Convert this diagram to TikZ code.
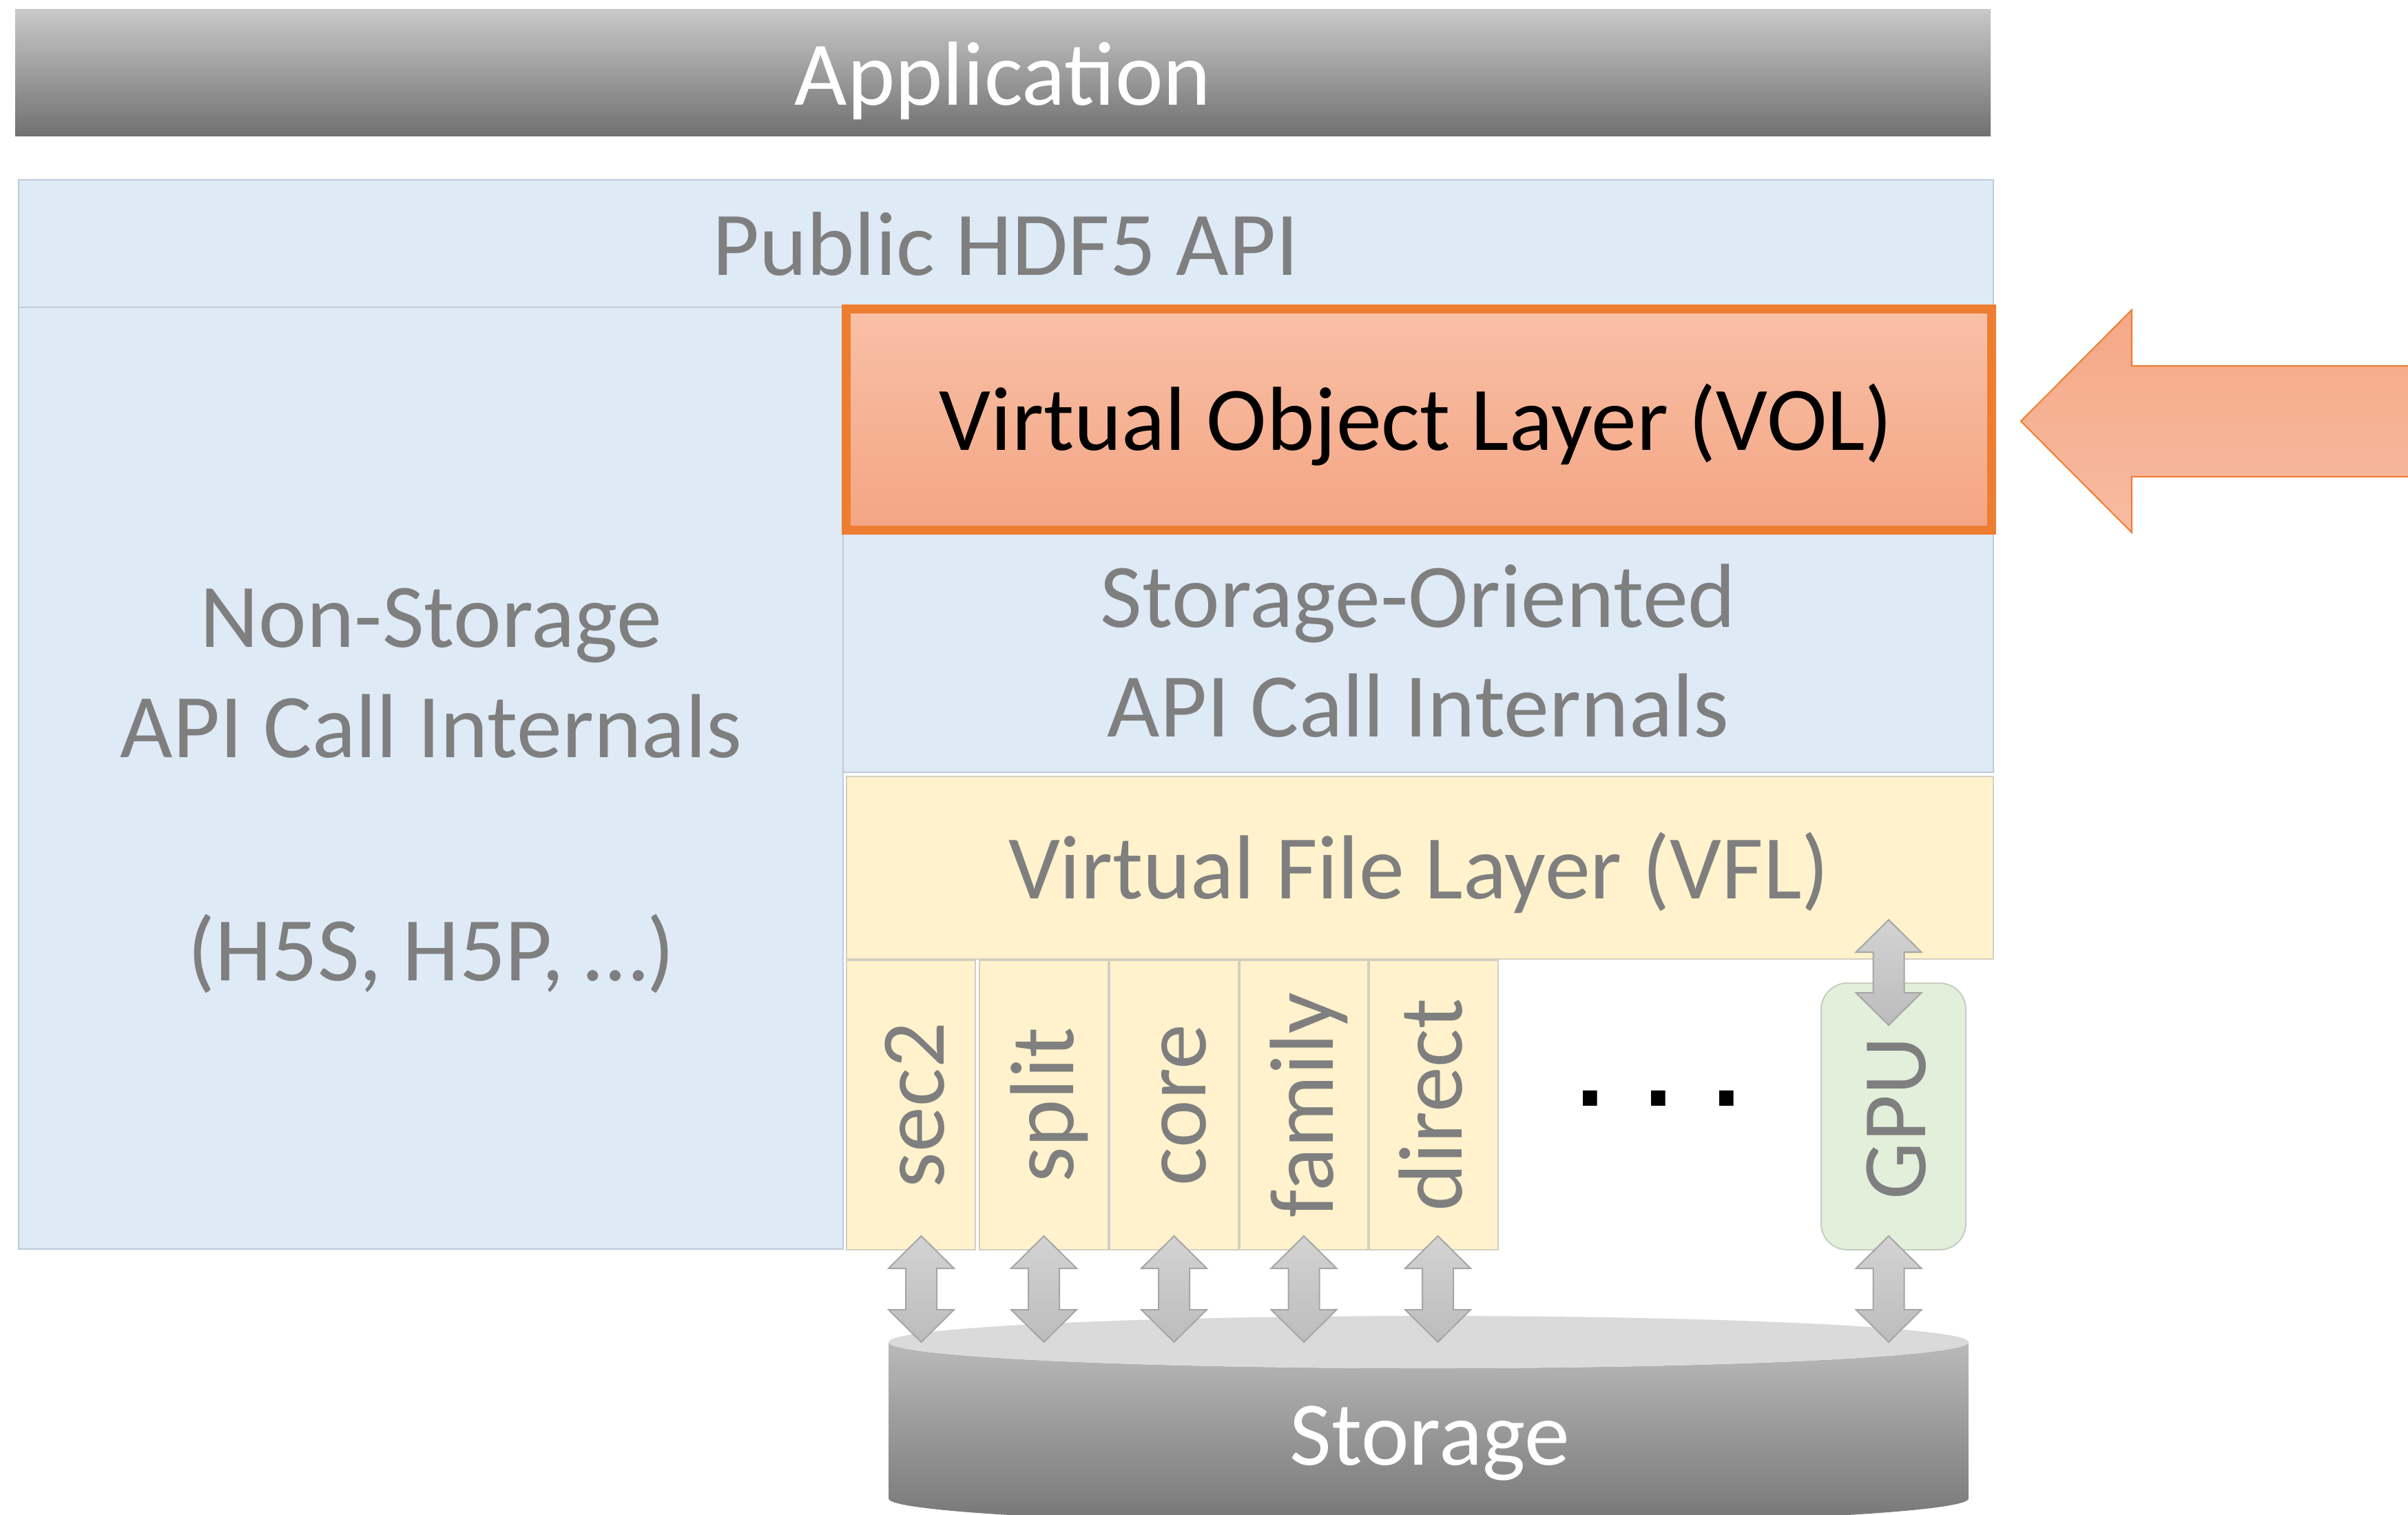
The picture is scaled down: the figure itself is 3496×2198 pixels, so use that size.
\documentclass[tikz,border=0pt]{standalone}
\usepackage{fontspec}
\setmainfont{Carlito}
\newfontfamily\dotfont{DejaVu Sans}
\usetikzlibrary{calc,fit}

\definecolor{appTop}{HTML}{C9C9C9}
\definecolor{appBot}{HTML}{717171}
\definecolor{apiFill}{HTML}{DEEAF6}
\definecolor{apiLine}{HTML}{BFCAD6}
\definecolor{volTop}{HTML}{F8C0A7}
\definecolor{volBot}{HTML}{F4A583}
\definecolor{volLine}{HTML}{ED7D31}
\definecolor{feedTop}{HTML}{F5A886}
\definecolor{feedBot}{HTML}{F7BBA2}
\definecolor{vflFill}{HTML}{FFF2CC}
\definecolor{vflLine}{HTML}{D3CFC2}
\definecolor{gpuFill}{HTML}{E2EFDA}
\definecolor{gpuLine}{HTML}{C6CEC0}
\definecolor{txtGray}{HTML}{7F7F7F}
\definecolor{arrTop}{HTML}{D3D3D3}
\definecolor{arrBot}{HTML}{BCBCBC}
\definecolor{arrLine}{HTML}{A6A6A6}
\definecolor{cylTop}{HTML}{DADADA}
\definecolor{cylSideTop}{HTML}{BABABA}
\definecolor{cylSideBot}{HTML}{767676}

\tikzset{
  area/.style={inner sep=0pt, outer sep=0pt},
  bluebox/.style={area, fill=apiFill, draw=apiLine, line width=0.6pt},
  yellowbox/.style={area, fill=vflFill, draw=vflLine, line width=0.5pt},
  lbl/.style={font=\fontsize{33}{40}\selectfont, text=txtGray, inner sep=0pt, anchor=base},
  vlbl/.style={lbl, rotate=90},
  % vertical two-headed block arrow between two points (top to bottom)
  dbl/.style={draw=arrLine, line width=0.5pt, top color=arrTop, bottom color=arrBot,
    to path={let \p1=(\tikztostart), \p2=(\tikztotarget) in
      (\x1,\y1) -- (\x1+11.875pt,\y1-11.75pt) -- (\x1+5.625pt,\y1-11.75pt)
      -- (\x1+5.625pt,\y2+11.75pt) -- (\x1+11.875pt,\y2+11.75pt) -- (\x1,\y2)
      -- (\x1-11.875pt,\y2+11.75pt) -- (\x1-5.625pt,\y2+11.75pt)
      -- (\x1-5.625pt,\y1-11.75pt) -- (\x1-11.875pt,\y1-11.75pt) -- cycle}},
  % wide block arrow pointing left, from a far point to its tip
  feedarrow/.style={draw=volLine, line width=0.5pt, top color=feedTop, bottom color=feedBot,
    to path={let \p1=(\tikztostart), \p2=(\tikztotarget) in
      (\x2,\y2) -- (\x2+40.25pt,\y2+40.4pt) -- (\x2+40.25pt,\y2+20.1pt)
      -- (\x1,\y2+20.1pt) -- (\x1,\y2-20.1pt) -- (\x2+40.25pt,\y2-20.1pt)
      -- (\x2+40.25pt,\y2-40.4pt) -- cycle}}
}

\begin{document}
\begin{tikzpicture}[x=0.25pt, y=-0.25pt]
\clip (0,0) rectangle (3496,2198);
\fill[white] (0,0) rectangle (3496,2198);

% top application bar
\node[area, fit={(22,13) (2890,197)}, top color=appTop, bottom color=appBot] (app) {};
\node[lbl, text=white] (app-label) at (1456,152) {Application};

% public API and internals
\node[bluebox, fit={(27,261) (2894,446)}] (api) {};
\node[lbl] (api-label) at (1460,399) {Public HDF5 API};

\node[bluebox, fit={(27,446) (1224,1813)}] (nonstore) {};
\node[lbl] (nonstore-1) at (626,939) {Non-Storage};
\node[lbl] (nonstore-2) at (626,1099) {API Call Internals};
\node[lbl] (nonstore-3) at (626,1423) {(H5S, H5P, …)};

\node[bluebox, fit={(1224,774) (2894,1121)}] (stor) {};
\node[lbl] (stor-1) at (2059,910) {Storage-Oriented};
\node[lbl] (stor-2) at (2059,1069) {API Call Internals};

% virtual object layer
\node[area, fit={(1228.5,448.5) (2891.5,769.5)}, top color=volTop, bottom color=volBot,
      draw=volLine, line width=3.25pt] (vol) {};
\node[lbl, text=black] (vol-label) at (2056,653) {Virtual Object Layer (VOL)};

% virtual file layer and drivers
\node[yellowbox, fit={(1229,1127) (2894,1392)}] (vfl) {};
\node[lbl] (vfl-label) at (2060,1304) {Virtual File Layer (VFL)};

\node[yellowbox, fit={(1229,1394) (1416,1814)}] (sec2) {};
\node[yellowbox, fit={(1422,1394) (1609,1814)}] (split) {};
\node[yellowbox, fit={(1611,1394) (1798,1814)}] (core) {};
\node[yellowbox, fit={(1800,1394) (1986,1814)}] (family) {};
\node[yellowbox, fit={(1988,1394) (2175,1814)}] (direct) {};
\node[vlbl] (sec2-label) at (1370,1604) {sec2};
\node[vlbl] (split-label) at (1558,1604) {split};
\node[vlbl] (core-label) at (1750,1604) {core};
\node[vlbl] (family-label) at (1935,1604) {family};
\node[vlbl] (direct-label) at (2122,1604) {direct};

\node[font=\dotfont\fontsize{29.4}{35}\selectfont\bfseries, inner sep=0pt, anchor=base] (more) at (2408,1605) {. . .};

\node[area, fit={(2644,1427) (2854,1814)}, fill=gpuFill, draw=gpuLine, line width=0.5pt,
      rounded corners=9.5pt] (gpu) {};
\node[vlbl] (gpu-label) at (2795,1623) {GPU};

% storage cylinder
\coordinate (stotop) at (2074,1948);
\shade[top color=cylSideTop, bottom color=cylSideBot]
  (1290,1948) -- (1290,2175) arc[start angle=180, end angle=360, x radius=196pt, y radius=9.5pt]
  -- (2858,1948) arc[start angle=0, end angle=-180, x radius=196pt, y radius=9.5pt] -- cycle;
\fill[cylTop] (stotop) ellipse[x radius=196pt, y radius=9.5pt];
\node[lbl, text=white] (storage) at (2076,2126) {Storage};

% data paths between drivers and storage
\draw[dbl] ([xshift=3.75pt,yshift=5pt]sec2.south) to ([xshift=3.75pt]sec2.south |- stotop);
\draw[dbl] ([yshift=5pt]split.south) to (split.south |- stotop);
\draw[dbl] ([yshift=5pt]core.south) to (core.south |- stotop);
\draw[dbl] ([yshift=5pt]family.south) to (family.south |- stotop);
\draw[dbl] ([xshift=1.5pt,yshift=5pt]direct.south) to ([xshift=1.5pt]direct.south |- stotop);
\coordinate (gx) at ([xshift=-1.75pt]gpu.north);
\draw[dbl] ([yshift=14.25pt]gx |- vfl.south) to ([yshift=-15.25pt]gx);
\draw[dbl] ([yshift=5pt]gx |- gpu.south) to (gx |- stotop);

% incoming arrow pointing at the VOL
\coordinate (feed) at (3530,612);
\coordinate (voltip) at ([xshift=10.6pt,yshift=-0.6pt]vol.east);
\draw[feedarrow] (feed) to (voltip);
\end{tikzpicture}
\end{document}
